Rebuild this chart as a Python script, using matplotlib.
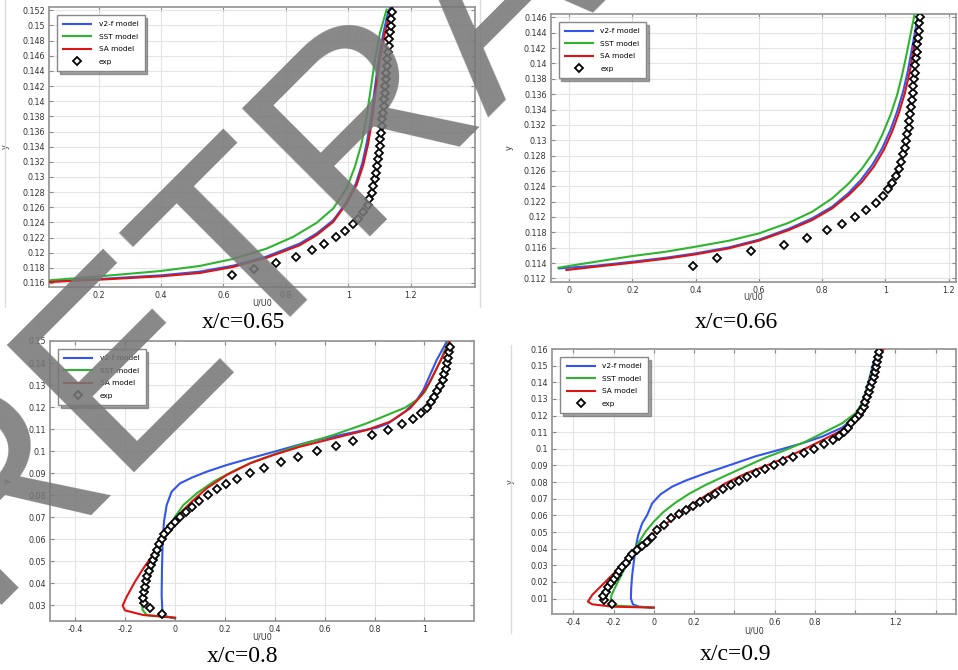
import numpy as np
import matplotlib
matplotlib.use("Agg")
import matplotlib.pyplot as plt
from matplotlib.ticker import FixedLocator, FixedFormatter

# ---------------- data ----------------
series_names = ["v2-f model", "SST model", "SA model", "exp"]
captions = ["x/c=0.65", "x/c=0.66", "x/c=0.8", "x/c=0.9"]

# x/c = 0.65
p65_v2f_u = [0.0406, 0.2032, 0.4, 0.5241, 0.6310, 0.7380, 0.8449, 0.8984, 0.9519, 0.9947, 1.0246, 1.0449, 1.0600, 1.0738, 1.0845, 1.0973, 1.1123, 1.1273, 1.1401]
p65_v2f_y = [0.11618, 0.11653, 0.11701, 0.11750, 0.11829, 0.11949, 0.12121, 0.12253, 0.12429, 0.12668, 0.12915, 0.13179, 0.13466, 0.13797, 0.14150, 0.14547, 0.14900, 0.15165, 0.15297]
p65_sst_u = [0.0406, 0.2032, 0.4, 0.5241, 0.6310, 0.7380, 0.8235, 0.8984, 0.9519, 0.9947, 1.0214, 1.0428, 1.0588, 1.0717, 1.0856, 1.1016, 1.1230]
p65_sst_y = [0.11635, 0.11688, 0.11759, 0.11825, 0.11918, 0.12054, 0.12209, 0.12394, 0.12584, 0.12849, 0.13135, 0.13444, 0.13797, 0.14150, 0.14547, 0.14900, 0.15209]
p65_sa_u = [0.0406, 0.2032, 0.4, 0.5241, 0.6310, 0.7380, 0.8449, 0.8984, 0.9519, 0.9947, 1.0267, 1.0481, 1.0642, 1.0781, 1.0888, 1.1016, 1.1176, 1.1337, 1.1465]
p65_sa_y = [0.11613, 0.11644, 0.11688, 0.11732, 0.11812, 0.11931, 0.12099, 0.12231, 0.12407, 0.12650, 0.12893, 0.13157, 0.13444, 0.13797, 0.14150, 0.14547, 0.14900, 0.15165, 0.15297]
p65_exp_u = [0.6278, 0.6973, 0.7668, 0.8310, 0.8824, 0.9219, 0.9604, 0.9904, 1.0160, 1.0321, 1.0481, 1.0620, 1.0674, 1.0749, 1.0802, 1.0856, 1.0888, 1.0920, 1.0952, 1.0984, 1.1005, 1.1027, 1.1048, 1.1070, 1.1091, 1.1112, 1.1134, 1.1144, 1.1166, 1.1176, 1.1198, 1.1208, 1.1230, 1.1251, 1.1273, 1.1294, 1.1316, 1.1337, 1.1358, 1.1380, 1.1401]
p65_exp_y = [0.11701, 0.11790, 0.11869, 0.11949, 0.12037, 0.12116, 0.12204, 0.12288, 0.12376, 0.12451, 0.12540, 0.12628, 0.12707, 0.12791, 0.12879, 0.12968, 0.13056, 0.13144, 0.13232, 0.13321, 0.13409, 0.13497, 0.13585, 0.13674, 0.13762, 0.13850, 0.13938, 0.14026, 0.14115, 0.14203, 0.14291, 0.14379, 0.14468, 0.14556, 0.14644, 0.14732, 0.14821, 0.14909, 0.14997, 0.15085, 0.15173]

# x/c = 0.66
p66_v2f_u = [-0.0316, 0.0842, 0.2, 0.3053, 0.4, 0.5053, 0.6, 0.6947, 0.7684, 0.8316, 0.8821, 0.9221, 0.9579, 0.9895, 1.0158, 1.0368, 1.0558, 1.0705, 1.0821, 1.0926, 1.1032]
p66_v2f_y = [0.11330, 0.11365, 0.11417, 0.11469, 0.11526, 0.11604, 0.11704, 0.11847, 0.11982, 0.12134, 0.12307, 0.12481, 0.12676, 0.12894, 0.13133, 0.13372, 0.13632, 0.13893, 0.14153, 0.14392, 0.14630]
p66_sst_u = [-0.0337, 0.0105, 0.0842, 0.2, 0.3053, 0.4, 0.5053, 0.6, 0.6947, 0.7684, 0.8316, 0.8842, 0.9263, 0.9632, 0.9895, 1.0158, 1.0368, 1.0526, 1.0663, 1.0789, 1.0916]
p66_sst_y = [0.11339, 0.11369, 0.11417, 0.11491, 0.11547, 0.11613, 0.11691, 0.11786, 0.11925, 0.12068, 0.12242, 0.12438, 0.12633, 0.12850, 0.13067, 0.13328, 0.13588, 0.13849, 0.14109, 0.14370, 0.14630]
p66_sa_u = [-0.0084, 0.0842, 0.2, 0.3053, 0.4, 0.5053, 0.6, 0.6947, 0.7684, 0.8316, 0.8842, 0.9263, 0.9632, 0.9947, 1.0211, 1.0421, 1.0611, 1.0758, 1.0874, 1.0979, 1.1105]
p66_sa_y = [0.11309, 0.11352, 0.11404, 0.11456, 0.11513, 0.11591, 0.11691, 0.11830, 0.11960, 0.12112, 0.12286, 0.12459, 0.12655, 0.12872, 0.13111, 0.13349, 0.13610, 0.13871, 0.14131, 0.14392, 0.14630]
p66_exp_u = [0.3916, 0.4663, 0.5758, 0.6789, 0.7526, 0.8147, 0.8632, 0.9053, 0.9400, 0.9705, 0.9916, 1.0084, 1.0211, 1.0337, 1.0442, 1.0505, 1.0558, 1.0611, 1.0663, 1.0695, 1.0737, 1.0758, 1.0789, 1.0811, 1.0842, 1.0863, 1.0884, 1.0905, 1.0926, 1.0947, 1.0968, 1.0989, 1.1011, 1.1032, 1.1053, 1.1074, 1.1105]
p66_exp_y = [0.11365, 0.11461, 0.11556, 0.11639, 0.11730, 0.11825, 0.11912, 0.11999, 0.12086, 0.12181, 0.12268, 0.12359, 0.12446, 0.12537, 0.12624, 0.12715, 0.12815, 0.12902, 0.12989, 0.13076, 0.13163, 0.13254, 0.13341, 0.13436, 0.13523, 0.13610, 0.13706, 0.13792, 0.13879, 0.13975, 0.14066, 0.14153, 0.14248, 0.14335, 0.14426, 0.14522, 0.14609]

# x/c = 0.8
p80_v2f_u = [0.0, -0.0404, -0.0511, -0.0538, -0.0524, -0.0498, -0.0444, -0.0337, -0.0137, 0.0198, 0.0666, 0.1267, 0.2070, 0.3006, 0.4075, 0.5412, 0.6750, 0.8087, 0.8555, 0.9224, 0.9692, 0.9959, 1.0226, 1.0493, 1.0894]
p80_v2f_y = [0.02410, 0.02516, 0.02788, 0.03469, 0.04680, 0.05890, 0.06798, 0.07554, 0.08160, 0.08538, 0.08795, 0.09067, 0.09370, 0.09673, 0.10006, 0.10429, 0.10762, 0.11065, 0.11261, 0.11791, 0.12321, 0.12775, 0.13456, 0.14137, 0.14969]
p80_sst_u = [0.0, -0.1139, -0.1300, -0.1340, -0.1206, -0.0938, -0.0671, -0.0471, -0.0270, 0.0, 0.0334, 0.0869, 0.1538, 0.2340, 0.3142, 0.4078, 0.5011, 0.6348, 0.7685, 0.9224, 0.9692, 1.0026, 1.0293, 1.0627, 1.0961]
p80_sst_y = [0.02440, 0.02561, 0.02788, 0.03166, 0.03772, 0.04604, 0.05360, 0.05966, 0.06495, 0.07025, 0.07554, 0.08084, 0.08614, 0.09098, 0.09521, 0.09900, 0.10278, 0.10732, 0.11261, 0.11973, 0.12321, 0.12699, 0.13304, 0.14061, 0.14969]
p80_sa_u = [0.0, -0.1272, -0.2008, -0.2102, -0.1941, -0.1607, -0.1272, -0.0938, -0.0604, -0.0337, -0.0070, 0.0265, 0.0666, 0.1267, 0.2070, 0.3006, 0.3942, 0.5011, 0.6348, 0.7685, 0.8621, 0.9424, 0.9892, 1.0226, 1.0493, 1.0760, 1.1001]
p80_sa_y = [0.02440, 0.02561, 0.02773, 0.02985, 0.03393, 0.04074, 0.04680, 0.05209, 0.05739, 0.06193, 0.06722, 0.07252, 0.07706, 0.08311, 0.08916, 0.09446, 0.09824, 0.10202, 0.10581, 0.10959, 0.11337, 0.11942, 0.12548, 0.13153, 0.13758, 0.14363, 0.14969]
p80_exp_u = [-0.0538, -0.1006, -0.1233, -0.1273, -0.1247, -0.1220, -0.1180, -0.1126, -0.1059, -0.0979, -0.0899, -0.0805, -0.0725, -0.0631, -0.0538, -0.0431, -0.0297, -0.0176, 0.0, 0.0198, 0.0425, 0.0666, 0.0973, 0.1334, 0.1695, 0.2043, 0.2498, 0.3006, 0.3581, 0.4249, 0.4945, 0.5680, 0.6456, 0.7151, 0.7886, 0.8555, 0.9090, 0.9531, 0.9852, 1.0093, 1.0253, 1.0400, 1.0520, 1.0627, 1.0734, 1.0801, 1.0854, 1.0908, 1.0961, 1.1001, 1.1028]
p80_exp_y = [0.02622, 0.02864, 0.03121, 0.03348, 0.03620, 0.03847, 0.04105, 0.04347, 0.04574, 0.04831, 0.05043, 0.05285, 0.05512, 0.05769, 0.06011, 0.06223, 0.06420, 0.06616, 0.06798, 0.07025, 0.07252, 0.07479, 0.07751, 0.08008, 0.08266, 0.08493, 0.08750, 0.08992, 0.09249, 0.09506, 0.09748, 0.09990, 0.10248, 0.10475, 0.10717, 0.10959, 0.11216, 0.11458, 0.11715, 0.11973, 0.12215, 0.12472, 0.12729, 0.12971, 0.13228, 0.13486, 0.13728, 0.13985, 0.14242, 0.14484, 0.14741]

# x/c = 0.9
p90_v2f_u = [0.0, -0.0741, -0.1039, -0.1138, -0.1122, -0.1072, -0.0989, -0.0907, -0.0774, -0.0576, -0.0328, -0.0079, 0.0334, 0.0913, 0.1575, 0.2568, 0.3891, 0.5050, 0.6208, 0.7366, 0.8359, 0.9352, 0.9931, 1.0262, 1.0510, 1.0708, 1.0923, 1.1254]
p90_v2f_y = [0.00459, 0.00519, 0.00660, 0.01020, 0.01621, 0.02422, 0.03223, 0.04024, 0.04825, 0.05526, 0.06027, 0.06728, 0.07269, 0.07729, 0.08090, 0.08531, 0.09071, 0.09552, 0.09933, 0.10333, 0.10734, 0.11275, 0.11835, 0.12536, 0.13337, 0.14239, 0.15240, 0.16001]
p90_sst_u = [0.0, -0.1900, -0.2148, -0.2098, -0.1900, -0.1651, -0.1403, -0.1105, -0.0774, -0.0410, 0.0, 0.0500, 0.1079, 0.1741, 0.2568, 0.3561, 0.4553, 0.5546, 0.6539, 0.7532, 0.8525, 0.9352, 1.0013, 1.0344, 1.0592, 1.0840, 1.1089, 1.1172]
p90_sst_y = [0.00459, 0.00579, 0.00820, 0.01220, 0.01721, 0.02322, 0.02923, 0.03624, 0.04325, 0.05026, 0.05626, 0.06227, 0.06768, 0.07289, 0.07830, 0.08390, 0.08931, 0.09472, 0.09933, 0.10433, 0.11034, 0.11535, 0.12136, 0.12736, 0.13638, 0.14639, 0.15640, 0.16001]
p90_sa_u = [0.0, -0.2065, -0.3058, -0.3273, -0.3058, -0.2561, -0.2065, -0.1403, -0.0741, -0.0245, 0.0251, 0.0913, 0.1575, 0.2237, 0.2899, 0.3561, 0.4553, 0.5712, 0.6704, 0.7532, 0.8359, 0.9186, 0.9683, 1.0096, 1.0344, 1.0592, 1.0840, 1.1089, 1.1420]
p90_sa_y = [0.00459, 0.00519, 0.00660, 0.00820, 0.01220, 0.01821, 0.02422, 0.03223, 0.04024, 0.04665, 0.05186, 0.05767, 0.06388, 0.06928, 0.07429, 0.07930, 0.08510, 0.09051, 0.09552, 0.10013, 0.10513, 0.11014, 0.11435, 0.11935, 0.12536, 0.13437, 0.14439, 0.15440, 0.16001]
p90_exp_u = [-0.2098, -0.2478, -0.2528, -0.2396, -0.2263, -0.2131, -0.1999, -0.1850, -0.1717, -0.1568, -0.1403, -0.1238, -0.1072, -0.0824, -0.0576, -0.0328, -0.0079, 0.0169, 0.0500, 0.0880, 0.1244, 0.1608, 0.1955, 0.2319, 0.2700, 0.3064, 0.3461, 0.3841, 0.4222, 0.4652, 0.5082, 0.5512, 0.5976, 0.6439, 0.6919, 0.7449, 0.7978, 0.8458, 0.8889, 0.9186, 0.9434, 0.9649, 0.9815, 0.9980, 1.0179, 1.0311, 1.0427, 1.0510, 1.0592, 1.0675, 1.0758, 1.0840, 1.0923, 1.0973, 1.1039, 1.1089, 1.1139, 1.1172]
p90_exp_y = [0.00680, 0.00920, 0.01180, 0.01421, 0.01681, 0.01921, 0.02162, 0.02422, 0.02682, 0.02923, 0.03163, 0.03423, 0.03664, 0.03924, 0.04184, 0.04425, 0.04725, 0.05126, 0.05426, 0.05827, 0.06067, 0.06327, 0.06588, 0.06828, 0.07068, 0.07309, 0.07569, 0.07810, 0.08050, 0.08290, 0.08531, 0.08771, 0.09011, 0.09272, 0.09512, 0.09772, 0.10013, 0.10273, 0.10513, 0.10774, 0.11034, 0.11274, 0.11535, 0.11775, 0.12036, 0.12276, 0.12536, 0.12837, 0.13137, 0.13437, 0.13738, 0.14038, 0.14339, 0.14639, 0.14939, 0.15240, 0.15540, 0.15840]

# tick values
p65_xticks = [0.2, 0.4, 0.6, 0.8, 1.0, 1.2]
p65_yticks = [0.116, 0.118, 0.120, 0.122, 0.124, 0.126, 0.128, 0.130, 0.132, 0.134, 0.136, 0.138, 0.140, 0.142, 0.144, 0.146, 0.148, 0.150, 0.152]
p66_xticks = [0.0, 0.2, 0.4, 0.6, 0.8, 1.0, 1.2]
p66_yticks = [0.112, 0.114, 0.116, 0.118, 0.120, 0.122, 0.124, 0.126, 0.128, 0.130, 0.132, 0.134, 0.136, 0.138, 0.140, 0.142, 0.144, 0.146]
p80_xticks = [-0.4, -0.2, 0.0, 0.2, 0.4, 0.6, 0.8, 1.0]
p80_yticks = [0.03, 0.04, 0.05, 0.06, 0.07, 0.08, 0.09, 0.10, 0.11, 0.12, 0.13, 0.14, 0.15]
p90_xticks = [-0.4, -0.2, 0.0, 0.2, 0.4, 0.6, 0.8, 1.0, 1.2, 1.4]
p90_xticklabels = ["-0.4", "-0.2", "0", "0.2", "", "0.6", "0.8", "", "1.2", ""]
p90_yticks = [0.01, 0.02, 0.03, 0.04, 0.05, 0.06, 0.07, 0.08, 0.09, 0.10, 0.11, 0.12, 0.13, 0.14, 0.15, 0.16]

watermark = "RETRACTED"

# ---------------- style ----------------
C_BLUE = "#3355ee"
C_GREEN = "#2fb42f"
C_RED = "#dd1414"
W, H = 958, 670


def fmt(v, nd):
    s = f"{v:.{nd}f}".rstrip("0").rstrip(".")
    if s in ("-0", ""):
        s = "0"
    return s


fig = plt.figure(figsize=(W / 100, H / 100), dpi=100)
fig.patch.set_facecolor("white")


def px_axes(l, t, r, b):
    return fig.add_axes([l / W, 1 - b / H, (r - l) / W, (b - t) / H])


panels = [
    dict(box=(49, 7, 475, 287), xlim=(0.0406, 1.4064), ylim=(0.11547, 0.15244),
         xt=p65_xticks, xtl=[fmt(v, 1) for v in p65_xticks],
         yt=p65_yticks, ytl=[fmt(v, 3) for v in p65_yticks],
         data=[(p65_v2f_u, p65_v2f_y), (p65_sst_u, p65_sst_y), (p65_sa_u, p65_sa_y), (p65_exp_u, p65_exp_y)],
         ylab_x=10, xlab_y=299, cap=(243, 323)),
    dict(box=(550.7, 14, 956, 281.7), xlim=(-0.058, 1.223), ylim=(0.11157, 0.14644),
         xt=p66_xticks, xtl=[fmt(v, 1) for v in p66_xticks],
         yt=p66_yticks, ytl=[fmt(v, 3) for v in p66_yticks],
         data=[(p66_v2f_u, p66_v2f_y), (p66_sst_u, p66_sst_y), (p66_sa_u, p66_sa_y), (p66_exp_u, p66_exp_y)],
         ylab_x=514, xlab_y=293, cap=(736, 323)),
    dict(box=(50, 341, 474, 620.7), xlim=(-0.5016, 1.199), ylim=(0.02304, 0.15),
         xt=p80_xticks, xtl=[fmt(v, 1) for v in p80_xticks],
         yt=p80_yticks, ytl=[fmt(v, 2) for v in p80_yticks],
         data=[(p80_v2f_u, p80_v2f_y), (p80_sst_u, p80_sst_y), (p80_sa_u, p80_sa_y), (p80_exp_u, p80_exp_y)],
         ylab_x=12, xlab_y=633, cap=(243, 656)),
    dict(box=(552.3, 349, 956, 614.3), xlim=(-0.504, 1.501), ylim=(0.00059, 0.16),
         xt=p90_xticks, xtl=p90_xticklabels,
         yt=p90_yticks, ytl=[fmt(v, 2) for v in p90_yticks],
         data=[(p90_v2f_u, p90_v2f_y), (p90_sst_u, p90_sst_y), (p90_sa_u, p90_sa_y), (p90_exp_u, p90_exp_y)],
         ylab_x=515, xlab_y=626, cap=(736, 655)),
]

TICK_FS = 5.8
for i, p in enumerate(panels):
    l, t, r, b = p["box"]
    ax = px_axes(l, t, r, b)
    ax.set_xlim(*p["xlim"])
    ax.set_ylim(*p["ylim"])
    ax.xaxis.set_major_locator(FixedLocator(p["xt"]))
    ax.xaxis.set_major_formatter(FixedFormatter(p["xtl"]))
    ax.yaxis.set_major_locator(FixedLocator(p["yt"]))
    ax.yaxis.set_major_formatter(FixedFormatter(p["ytl"]))
    ax.grid(True, color="#e4e4e4", lw=0.8)
    ax.set_axisbelow(True)
    for s in ax.spines.values():
        s.set_color("#9a9a9a")
        s.set_linewidth(1.3)
    ax.tick_params(direction="in", length=3, width=0.8, color="#888888",
                   labelsize=TICK_FS, labelcolor="#333333", top=True, right=True, pad=3)
    (vu, vy), (su, sy), (au, ay), (eu, ey) = p["data"]
    ax.plot(vu, vy, color=C_BLUE, lw=1.5, label=series_names[0], zorder=3)
    ax.plot(su, sy, color=C_GREEN, lw=1.5, label=series_names[1], zorder=3)
    ax.plot(au, ay, color=C_RED, lw=1.5, label=series_names[2], zorder=3)
    ax.plot(eu, ey, ls="none", marker="D", ms=4.2, mfc="white", mec="black", mew=1.3,
            label=series_names[3], zorder=4)
    ax.set_ylabel("y", fontsize=TICK_FS, color="#333333")
    ax.yaxis.set_label_coords((p["ylab_x"] - l) / (r - l), 0.5)
    ax.set_xlabel("U/U0", fontsize=TICK_FS, color="#333333")
    ax.xaxis.set_label_coords(0.5, -(p["xlab_y"] - b) / (b - t))
    leg = ax.legend(loc="upper left", bbox_to_anchor=(8 / (r - l), 1 - 8 / (b - t)),
                    borderaxespad=0, fontsize=5.3, frameon=True, fancybox=False,
                    shadow=True, edgecolor="#888888", framealpha=1,
                    handlelength=3.8, labelspacing=0.85, borderpad=0.85, handletextpad=1.0)
    leg.get_frame().set_linewidth(1.0)
    fig.text(p["cap"][0] / W, 1 - p["cap"][1] / H, captions[i], ha="center", va="center",
             fontsize=17, family="Liberation Serif")

# image border lines
for (x, y0, y1) in [(5, 0, 307), (480, 0, 307), (511, 345, 633)]:
    fig.add_artist(plt.Line2D([x / W, x / W], [1 - y0 / H, 1 - y1 / H],
                              color="#dcdcdc", lw=1, transform=fig.transFigure))

# watermark
fig.text(-19.5 / W, 1 - 605 / H, watermark, rotation=45, rotation_mode="anchor",
         ha="left", va="baseline", fontsize=188, family="Liberation Sans",
         color="#777777", alpha=0.88, zorder=20)

fig.savefig("out.png", dpi=100, facecolor="white")
